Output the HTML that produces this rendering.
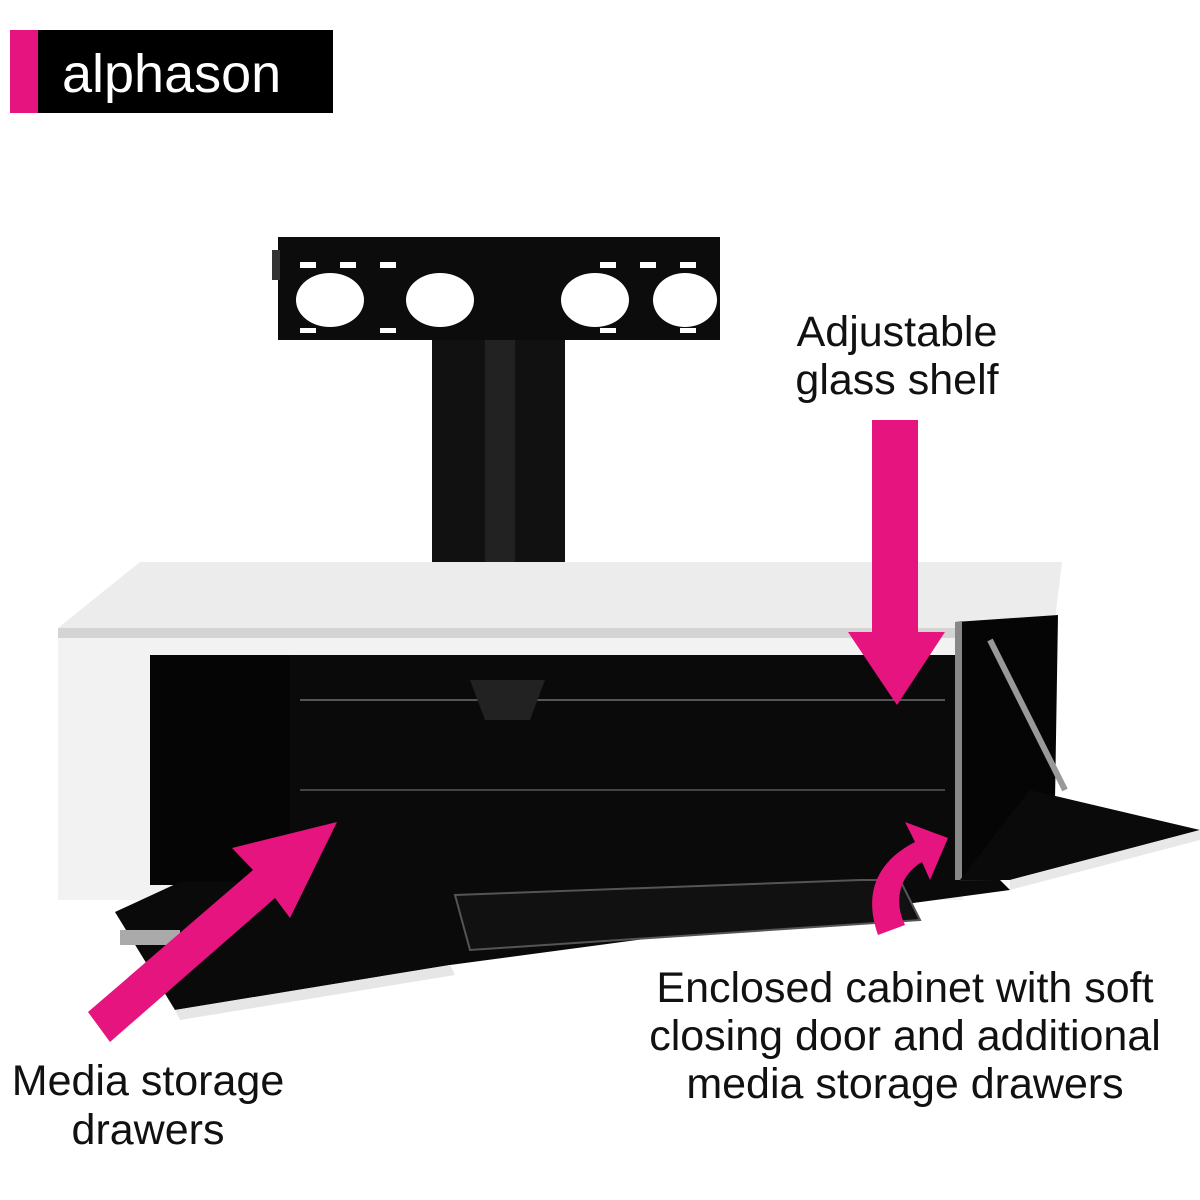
<!DOCTYPE html>
<html><head><meta charset="utf-8"><style>
html,body{margin:0;padding:0;background:#fff;}
svg{display:block}
text{font-family:"Liberation Sans","DejaVu Sans",sans-serif;fill:#111}
</style></head><body>
<svg width="1200" height="1200" viewBox="0 0 1200 1200" xmlns="http://www.w3.org/2000/svg">
<rect width="1200" height="1200" fill="#fff"/>
<rect x="10" y="30" width="323" height="83" fill="#000"/>
<rect x="10" y="30" width="28" height="83" fill="#e6147e"/>
<text x="62" y="92" font-size="54" style="fill:#fff">alphason</text>

<rect x="432" y="330" width="133" height="262" fill="#111"/>
<rect x="485" y="340" width="30" height="250" fill="#222"/>
<rect x="278" y="237" width="442" height="103" fill="#0c0c0c"/>
<rect x="272" y="250" width="8" height="30" fill="#333"/>
<g fill="#fff">
<ellipse cx="330" cy="300" rx="34" ry="27"/>
<ellipse cx="440" cy="300" rx="34" ry="27"/>
<ellipse cx="595" cy="300" rx="34" ry="27"/>
<ellipse cx="685" cy="300" rx="32" ry="27"/>
<rect x="300" y="262" width="16" height="6"/><rect x="340" y="262" width="16" height="6"/><rect x="380" y="262" width="16" height="6"/>
<rect x="600" y="262" width="16" height="6"/><rect x="640" y="262" width="16" height="6"/><rect x="680" y="262" width="16" height="6"/>
<rect x="300" y="328" width="16" height="5"/><rect x="380" y="328" width="16" height="5"/><rect x="600" y="328" width="16" height="5"/><rect x="680" y="328" width="16" height="5"/>
</g>

<polygon points="58,628 140,562 1062,562 1055,620 960,640 58,640" fill="#ececec"/>
<polygon points="58,628 960,628 960,640 58,640" fill="#d4d4d4"/>
<rect x="58" y="638" width="905" height="262" fill="#f2f2f2"/>
<rect x="150" y="655" width="810" height="230" fill="#0a0a0a"/>
<rect x="150" y="655" width="140" height="230" fill="#050505"/>
<line x1="300" y1="700" x2="945" y2="700" stroke="#555" stroke-width="2"/>
<line x1="300" y1="790" x2="945" y2="790" stroke="#444" stroke-width="2"/>
<polygon points="470,680 545,680 530,720 485,720" fill="#222"/>
<polygon points="955,622 1058,615 1055,800 960,880" fill="#050505"/>
<polygon points="955,622 962,622 962,880 955,880" fill="#888"/>
<line x1="990" y1="640" x2="1065" y2="790" stroke="#999" stroke-width="6"/>
<polygon points="960,880 1030,790 1200,830 1010,880" fill="#0a0a0a"/>
<polygon points="1010,880 1200,830 1200,840 1010,890" fill="#e8e8e8"/>
<polygon points="115,912 180,882 1000,880 1010,890 450,965 175,1010" fill="#0a0a0a"/>
<polygon points="175,1010 450,965 455,975 180,1020" fill="#e6e6e6"/>
<polygon points="455,895 860,880 900,880 920,920 470,950" fill="#111" stroke="#555" stroke-width="2"/>
<rect x="120" y="930" width="60" height="15" fill="#aaa"/>

<g fill="#e6147e">
<rect x="872" y="420" width="46" height="215"/>
<polygon points="848,632 945,632 897,705"/>
<polygon points="88,1012 110,1042 275,898 290,918 337,822 232,848 253,870"/>
<path d="M878,935 C862,890 880,860 915,842 L905,822 L948,838 L930,880 L922,862 C900,875 893,900 905,925 Z"/>
</g>

<g font-size="43" text-anchor="middle">
<text x="897" y="346">Adjustable</text>
<text x="897" y="394">glass shelf</text>
<text x="148" y="1095">Media storage</text>
<text x="148" y="1144">drawers</text>
<text x="905" y="1002">Enclosed cabinet with soft</text>
<text x="905" y="1050">closing door and additional</text>
<text x="905" y="1098">media storage drawers</text>
</g>
</svg>
</body></html>
